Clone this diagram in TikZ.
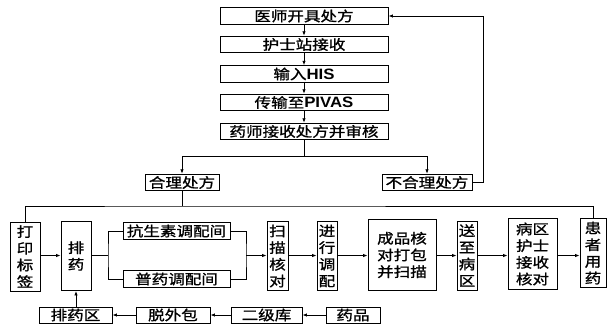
\documentclass[tikz,border=0pt]{standalone}
\usepackage{fontspec}
\setmainfont[FakeStretch=1.2,FakeBold=1.2]{Noto Sans CJK SC}
\newfontfamily\latf[FakeStretch=1.12]{Liberation Sans}
\newcommand{\latb}[1]{{\fontsize{15pt}{16pt}\selectfont\latf\bfseries #1}}
\usetikzlibrary{arrows.meta}
\begin{document}
\begin{tikzpicture}[x=1pt,y=-1pt,
  every node/.style={font=\fontsize{13.8pt}{16.7pt}\selectfont},
  box/.style={draw, line width=0.9pt, inner sep=0pt, minimum height=16.5pt, anchor=center},
  vbox/.style={box, align=center, minimum height=69pt},
  ln/.style={line width=0.8pt},
  arr/.style={line width=0.8pt, -{Latex[length=4.5pt,width=3.5pt]}}]
\useasboundingbox (0,0) rectangle (608,325);
% top column
\node[box, minimum width=168pt] (n1) at (304,16) {医师开具处方};
\node[box, minimum width=168pt] (n2) at (304,44.5) {护士站接收};
\node[box, minimum width=168pt] (n3) at (304,74) {输入\latb{HIS}};
\node[box, minimum width=168pt] (n4) at (304,102.5) {传输至\latb{PIVAS}};
\node[box, minimum width=168pt] (n5) at (304,131.5) {药师接收处方并审核};
\draw[arr] (n1.south) -- (n2.north);
\draw[arr] (n2.south) -- (n3.north);
\draw[arr] (n3.south) -- (n4.north);
\draw[arr] (n4.south) -- (n5.north);
% branch
\node[box, minimum width=74pt] (hl) at (182,182.5) {合理处方};
\node[box, minimum width=90pt] (bhl) at (427,182.5) {不合理处方};
\coordinate (brM) at (304,156);
\draw[ln] (n5.south) -- (brM);
\draw[arr] (brM) -| (hl.north);
\draw[arr] (brM) -| (bhl.north);
\coordinate (fb) at (483,16);
\draw[arr] (bhl.east) -| (fb) -- (n1.east);
% main row
\node[vbox, minimum width=30pt] (dy) at (25,256.5) {打\\印\\标\\签};
\node[vbox, minimum width=30pt] (py) at (76,256) {排\\药};
\node[box, minimum width=107pt] (ks) at (176.5,231) {抗生素调配间};
\node[box, minimum width=107pt] (pt) at (176.5,279) {普药调配间};
\node[vbox, minimum width=21pt] (sm) at (277.5,256) {扫\\描\\核\\对};
\node[vbox, minimum width=20pt] (jx) at (327,256) {进\\行\\调\\配};
\node[vbox, minimum width=68pt, minimum height=71pt] (cp) at (402,255) {成品核\\对打包\\并扫描};
\node[vbox, minimum width=20pt] (sz) at (467,255.5) {送\\至\\病\\区};
\node[vbox, minimum width=49pt, minimum height=71pt] (bq) at (532.5,254) {病区\\护士\\接收\\核对};
\node[vbox, minimum width=26pt] (hz) at (593,253) {患\\者\\用\\药};
\coordinate (h2) at (182,206);
\draw[ln] (hl.south) -- (h2);
\draw[ln] (dy.north) |- (h2) -| (hz.north);
\coordinate (row) at (0,255.5);
\draw[arr] (dy.east |- row) -- (py.west |- row);
\coordinate (forkL) at (108,255.5);
\coordinate (forkR) at (246,255.5);
\draw[ln] (py.east |- row) -- (forkL);
\draw[ln] (ks.west) -| (forkL) |- (pt.west);
\draw[ln] (ks.east) -| (forkR) |- (pt.east);
\draw[arr] (forkR) -- (sm.west |- row);
\draw[arr] (sm.east |- row) -- (jx.west |- row);
\draw[arr] (jx.east |- row) -- (cp.west |- row);
\draw[arr] (cp.east |- row) -- (sz.west |- row);
\draw[arr] (sz.east |- row) -- (bq.west |- row);
\draw[arr] (bq.east |- row) -- (hz.west |- row);
% bottom row
\node[box, minimum width=73pt, minimum height=16pt] (pyq) at (75.5,315) {排药区};
\node[box, minimum width=74pt, minimum height=16pt] (twb) at (173,315) {脱外包};
\node[box, minimum width=71pt, minimum height=16pt] (ejk) at (266.5,315) {二级库};
\node[box, minimum width=54pt, minimum height=16pt] (yp) at (353,315) {药品};
\draw[arr] (yp.west) -- (ejk.east);
\draw[arr] (ejk.west) -- (twb.east);
\draw[arr] (twb.west) -- (pyq.east);
\draw[arr] (pyq.north -| py.south) -- (py.south);
\end{tikzpicture}
\end{document}
